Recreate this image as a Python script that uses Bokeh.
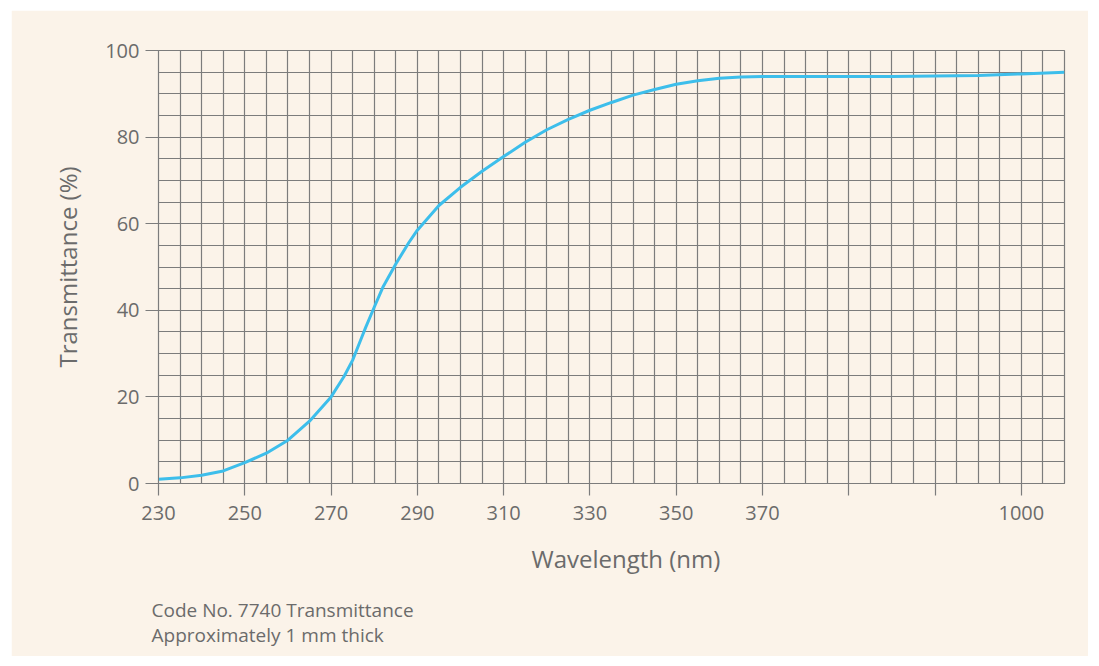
from bokeh.plotting import figure
from bokeh.models import FixedTicker, Title
from bokeh.embed import file_html
from bokeh.resources import INLINE

# Wavelength positions on the chart's evenly spaced scale (5 nm per grid cell;
# beyond 370 the scale is compressed, with 430 on this scale labelled 1000 nm)
wavelength = [230, 235, 240, 245, 250, 255, 260, 265, 270, 273, 275, 277, 278,
              280, 282, 285, 288, 290, 295, 300, 305, 310, 315, 320, 325, 330,
              335, 340, 345, 350, 355, 360, 365, 370, 380, 390, 400, 410, 420,
              430, 440]
transmittance = [1.0, 1.3, 1.9, 2.9, 4.8, 7.0, 10.0, 14.4, 20.0, 24.7, 28.5, 33.5, 36.0,
                 40.7, 45.3, 50.7, 55.6, 58.5, 64.2, 68.4, 72.1, 75.5, 78.8, 81.7, 84.1, 86.2,
                 88.0, 89.7, 91.0, 92.2, 93.0, 93.6, 93.9, 94.0, 94.0, 94.0, 94.0, 94.1, 94.2,
                 94.6, 95.0]

x_ticks = [230, 250, 270, 290, 310, 330, 350, 370, 390, 410, 430]
x_tick_labels = {390: "", 410: "", 430: "1000"}
y_ticks = [0, 20, 40, 60, 80, 100]
grid_x = list(range(230, 441, 5))
grid_y = list(range(0, 101, 5))

x_title = "Wavelength (nm)"
y_title = "Transmittance (%)"
note_lines = ["Code No. 7740 Transmittance", "Approximately 1 mm thick"]

CREAM = "#FBF3E9"
GRID = "#7C7C7C"
TEXT = "#6B6B6B"
CURVE = "#3DBEEB"
FONT = "Open Sans"

p = figure(width=1077, height=646, output_backend="svg", toolbar_location=None,
           x_range=(230, 440), y_range=(0, 100),
           min_border_left=147, min_border_right=24, min_border_top=40,
           min_border_bottom=173)
p.margin = (10, 11, 10, 11)
p.background_fill_color = CREAM
p.border_fill_color = CREAM
p.outline_line_color = GRID
p.outline_line_width = 1.2

p.xgrid.ticker = FixedTicker(ticks=grid_x)
p.ygrid.ticker = FixedTicker(ticks=grid_y)
for g in (p.xgrid, p.ygrid):
    g.grid_line_color = GRID
    g.grid_line_width = 1.2
    g.grid_line_alpha = 1.0

p.xaxis.ticker = FixedTicker(ticks=x_ticks)
p.xaxis.major_label_overrides = x_tick_labels
p.yaxis.ticker = FixedTicker(ticks=y_ticks)

for ax in (p.xaxis, p.yaxis):
    ax.axis_line_color = GRID
    ax.major_tick_line_color = GRID
    ax.major_tick_line_width = 1.2
    ax.major_tick_in = 0
    ax.minor_tick_line_color = None
    ax.major_label_text_font = FONT
    ax.major_label_text_font_size = "20px"
    ax.major_label_text_color = TEXT
    ax.axis_label_text_font = FONT
    ax.axis_label_text_font_size = "24px"
    ax.axis_label_text_font_style = "normal"
    ax.axis_label_text_color = TEXT

p.xaxis.major_tick_out = 12
p.yaxis.major_tick_out = 13
p.xaxis.major_label_standoff = 10
p.yaxis.major_label_standoff = 6
p.yaxis.axis_label = y_title
p.yaxis.axis_label_standoff = 18

p.line(wavelength, transmittance, line_color=CURVE, line_width=3)

# x-axis title (slightly right of centre, as in the original)
p.add_layout(Title(text=x_title, align="left", offset=373, standoff=34,
                   text_font=FONT, text_font_size="24px",
                   text_font_style="normal", text_color=TEXT), "below")

for i, t in enumerate(note_lines):
    p.add_layout(Title(text=t, align="left", offset=-7, standoff=6 if i == 0 else -12,
                       text_font=FONT, text_font_size="19px",
                       text_font_style="normal", text_color=TEXT), "below")

open("out.html", "w").write(file_html(p, INLINE))
